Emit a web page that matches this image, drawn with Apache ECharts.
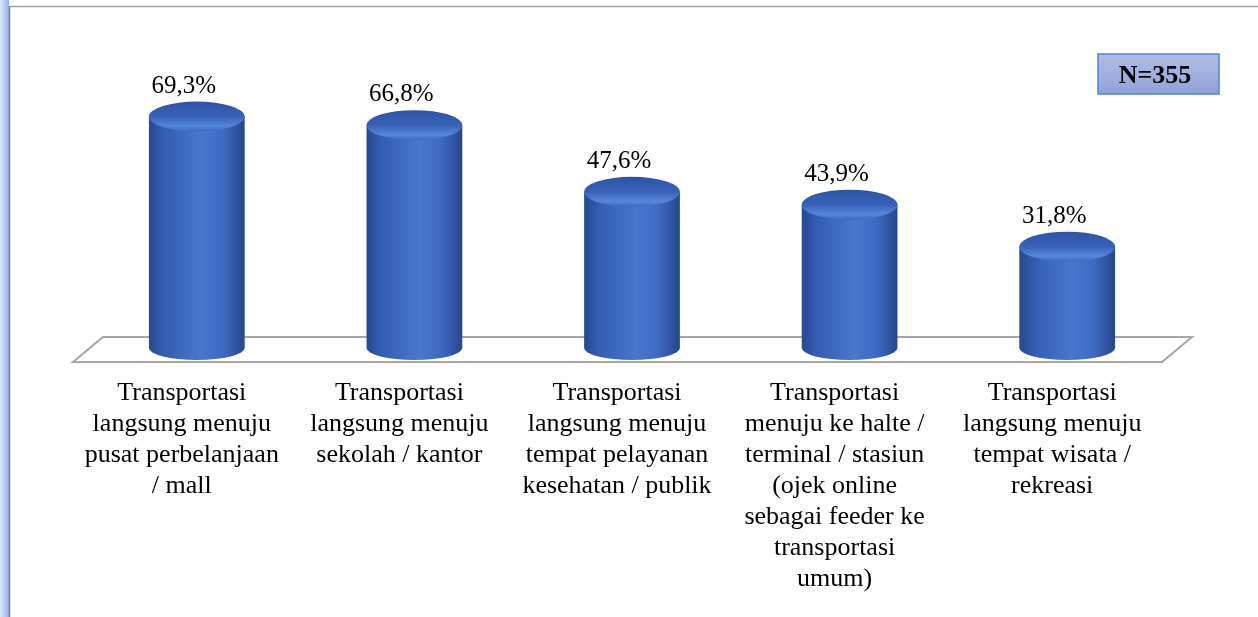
<!DOCTYPE html>
<html>
<head>
<meta charset="utf-8">
<script src="https://cdn.jsdelivr.net/npm/echarts@6/dist/echarts.min.js"></script>
<style>
  html, body { margin: 0; padding: 0; background: #fff; }
  #chart { width: 1258px; height: 617px; }
</style>
</head>
<body>
<div id="chart"></div>
<script>
const categories = [
  "Transportasi\nlangsung menuju\npusat perbelanjaan\n/ mall",
  "Transportasi\nlangsung menuju\nsekolah / kantor",
  "Transportasi\nlangsung menuju\ntempat pelayanan\nkesehatan / publik",
  "Transportasi\nmenuju ke halte /\nterminal / stasiun\n(ojek online\nsebagai feeder ke\ntransportasi\numum)",
  "Transportasi\nlangsung menuju\ntempat wisata /\nrekreasi"
];
const values = [69.3, 66.8, 47.6, 43.9, 31.8];
const sampleLabel = "N=355";

const serif = '"Liberation Serif", "Times New Roman", serif';

function fmt(v) {
  return v.toFixed(1).replace(".", ",") + "%";
}

function renderItem(params, api) {
  const idx = api.value(0);
  const v = api.value(1);
  const top = api.coord([idx, v]);
  const base = api.coord([idx, 0]);
  const w = api.size([1, 0])[0] * 0.44;
  const cx = top[0];
  const rx = w / 2;
  const ryTop = 15;
  const ryBot = 12;
  const ty = top[1];
  const by = base[1] - 9;

  const bodyPath =
    "M" + (cx - rx) + "," + ty +
    " L" + (cx - rx) + "," + by +
    " A" + rx + "," + ryBot + " 0 0 0 " + (cx + rx) + "," + by +
    " L" + (cx + rx) + "," + ty + " Z";
  const capPath =
    "M" + (cx - rx) + "," + ty +
    " A" + rx + "," + ryTop + " 0 1 0 " + (cx + rx) + "," + ty +
    " A" + rx + "," + ryTop + " 0 1 0 " + (cx - rx) + "," + ty + " Z";

  return {
    type: "group",
    children: [
      {
        type: "path",
        shape: { pathData: bodyPath },
        style: {
          fill: {
            type: "linear", x: 0, y: 0, x2: 1, y2: 0,
            colorStops: [
              { offset: 0, color: "#284890" },
              { offset: 0.15, color: "#335db2" },
              { offset: 0.55, color: "#4877ce" },
              { offset: 0.78, color: "#3e69c2" },
              { offset: 1, color: "#27468b" }
            ]
          }
        }
      },
      {
        type: "path",
        shape: { pathData: capPath },
        style: {
          fill: {
            type: "linear", x: 0, y: 0, x2: 0, y2: 1,
            colorStops: [
              { offset: 0, color: "#2d53a3" },
              { offset: 0.5, color: "#3862b9" },
              { offset: 0.82, color: "#5686da" },
              { offset: 1, color: "#3c68c0" }
            ]
          }
        }
      },
      {
        type: "text",
        style: {
          text: fmt(v),
          x: cx - 13,
          y: ty - ryTop - 3,
          align: "center",
          verticalAlign: "bottom",
          font: "25px " + serif,
          fill: "#000"
        }
      }
    ]
  };
}

const chart = echarts.init(document.getElementById("chart"));
chart.setOption({
  backgroundColor: "#fff",
  animation: false,
  grid: { left: 88, right: 82, top: 10, bottom: 260 },
  xAxis: {
    type: "category",
    data: categories,
    axisLine: { show: false },
    axisTick: { show: false },
    axisLabel: {
      interval: 0,
      margin: 21,
      color: "#000",
      fontFamily: serif,
      fontSize: 26,
      lineHeight: 31,
      align: "center",
      padding: [0, 30, 0, 0]
    }
  },
  yAxis: { type: "value", min: 0, max: 100, show: false },
  graphic: [
    {
      type: "rect",
      shape: { x: 0, y: 0, width: 9, height: 617 },
      style: {
        fill: {
          type: "linear", x: 0, y: 0, x2: 1, y2: 0,
          colorStops: [
            { offset: 0, color: "#dce7fc" },
            { offset: 1, color: "#93afec" }
          ]
        }
      },
      z: 0
    },
    {
      type: "line",
      shape: { x1: 9.5, y1: 6, x2: 9.5, y2: 617 },
      style: { stroke: "#7f7f7f", lineWidth: 1.5 },
      z: 0
    },
    {
      type: "line",
      shape: { x1: 9, y1: 6.5, x2: 1258, y2: 6.5 },
      style: { stroke: "#a0a0a0", lineWidth: 1.5 },
      z: 0
    },
    {
      type: "polygon",
      shape: { points: [[73, 362], [103, 337], [1192, 337], [1162, 362]] },
      style: { fill: "#fff", stroke: "#a6a6a6", lineWidth: 2 },
      z: 0
    },
    {
      type: "group",
      z: 0,
      children: [
        {
          type: "rect",
          shape: { x: 1098, y: 54, width: 121, height: 40 },
          style: {
            fill: {
              type: "linear", x: 0, y: 0, x2: 0, y2: 1,
              colorStops: [
                { offset: 0, color: "#b0bfe7" },
                { offset: 1, color: "#8fa3d7" }
              ]
            },
            stroke: "#5282d2",
            lineWidth: 1.5
          }
        },
        {
          type: "text",
          style: {
            text: sampleLabel,
            x: 1155,
            y: 76,
            align: "center",
            verticalAlign: "middle",
            font: "bold 26px " + serif,
            fill: "#000"
          }
        }
      ]
    }
  ],
  series: [
    {
      type: "custom",
      z: 5,
      renderItem: renderItem,
      encode: { x: 0, y: 1 },
      data: values.map((v, i) => [i, v])
    }
  ]
});
window.addEventListener("resize", function () {
  chart.resize();
});
</script>
</body>
</html>
